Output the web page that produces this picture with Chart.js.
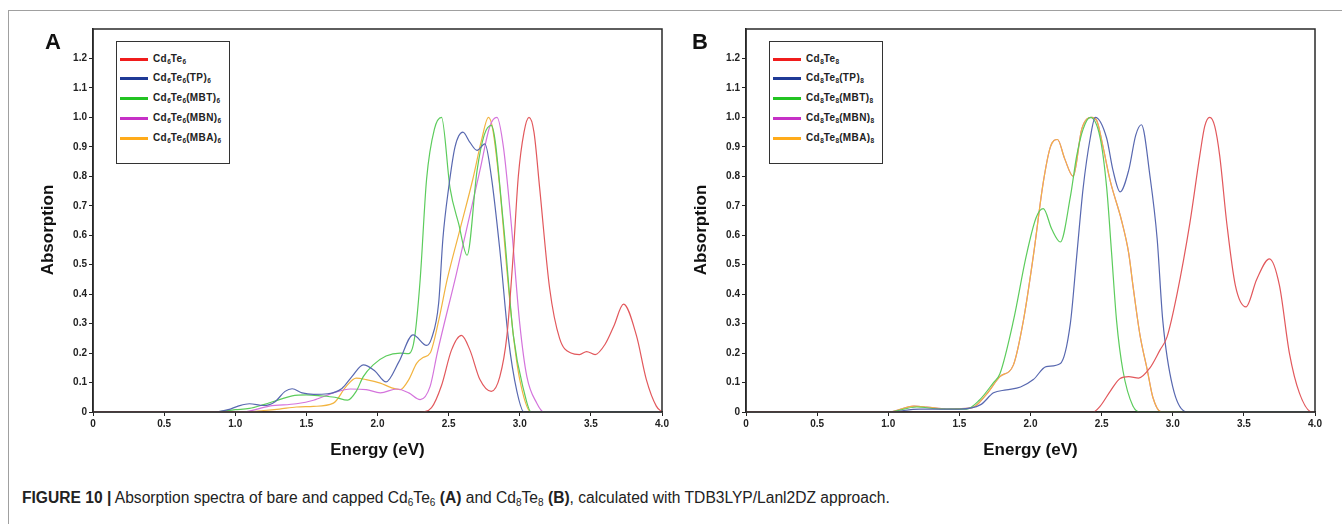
<!DOCTYPE html>
<html>
<head>
<meta charset="utf-8">
<script src="https://cdn.jsdelivr.net/npm/chart.js@4.4.1/dist/chart.umd.min.js"></script>
<style>
  body { margin: 0; width: 1342px; height: 524px; background: #fff; position: relative; overflow: hidden;
         font-family: Arial, "Liberation Sans", sans-serif; }
  .frame-top { position: absolute; left: 9px; top: 10px; width: 1333px; height: 0; border-top: 1.5px solid #a0a0a0; }
  .frame-left { position: absolute; left: 8px; top: 10px; width: 0; height: 514px; border-left: 1.5px solid #a0a0a0; }
  canvas { position: absolute; top: 0; }
  .letter { position: absolute; top: 29px; font-size: 22px; font-weight: bold; color: #111; }
  .ytitle { position: absolute; top: 230px; width: 120px; margin-left: -60px; margin-top: -10px; height: 20px; line-height: 20px;
            text-align: center; font-size: 17px; font-weight: bold; color: #111; transform: rotate(-90deg); }
  .legend { position: absolute; top: 41px; width: 112px; height: 121px; border: 1.5px solid #333; background: #fff; }
  .item { position: absolute; left: 0; height: 14px; line-height: 14px; font-size: 10px; font-weight: bold; color: #222;
          white-space: nowrap; letter-spacing: 0.4px; }
  .item span.sw { position: absolute; left: 3px; top: 6px; width: 28px; height: 3px; }
  .item span.tx { position: absolute; left: 36px; top: 0; }
  .item sub { font-size: 6.5px; vertical-align: -2px; letter-spacing: 0; }
  .caption { position: absolute; left: 22px; top: 489px; font-size: 15.6px; line-height: 18px; color: #222; white-space: nowrap; }
  .caption sub { font-size: 10px; vertical-align: -3px; }
</style>
</head>
<body>
<div class="frame-top"></div>
<div class="frame-left"></div>

<canvas id="chartA" width="680" height="470" style="left:0px"></canvas>
<canvas id="chartB" width="662" height="470" style="left:680px"></canvas>

<div class="letter" style="left:45px">A</div>
<div class="letter" style="left:692px">B</div>

<div class="ytitle" style="left:48px">Absorption</div>
<div class="ytitle" style="left:701px">Absorption</div>

<div class="legend" style="left:116px">
  <div class="item" style="top:10px"><span class="sw" style="background:#f01c1c"></span><span class="tx">Cd<sub>6</sub>Te<sub>6</sub></span></div>
  <div class="item" style="top:29px"><span class="sw" style="background:#1f3a96"></span><span class="tx">Cd<sub>6</sub>Te<sub>6</sub>(TP)<sub>6</sub></span></div>
  <div class="item" style="top:49px"><span class="sw" style="background:#22c322"></span><span class="tx">Cd<sub>6</sub>Te<sub>6</sub>(MBT)<sub>6</sub></span></div>
  <div class="item" style="top:69px"><span class="sw" style="background:#c630c6"></span><span class="tx">Cd<sub>6</sub>Te<sub>6</sub>(MBN)<sub>6</sub></span></div>
  <div class="item" style="top:89px"><span class="sw" style="background:#ffab1a"></span><span class="tx">Cd<sub>6</sub>Te<sub>6</sub>(MBA)<sub>6</sub></span></div>
</div>

<div class="legend" style="left:769px">
  <div class="item" style="top:10px"><span class="sw" style="background:#f01c1c"></span><span class="tx">Cd<sub>8</sub>Te<sub>8</sub></span></div>
  <div class="item" style="top:29px"><span class="sw" style="background:#1f3a96"></span><span class="tx">Cd<sub>8</sub>Te<sub>8</sub>(TP)<sub>8</sub></span></div>
  <div class="item" style="top:49px"><span class="sw" style="background:#22c322"></span><span class="tx">Cd<sub>8</sub>Te<sub>8</sub>(MBT)<sub>8</sub></span></div>
  <div class="item" style="top:69px"><span class="sw" style="background:#c630c6"></span><span class="tx">Cd<sub>8</sub>Te<sub>8</sub>(MBN)<sub>8</sub></span></div>
  <div class="item" style="top:89px"><span class="sw" style="background:#ffab1a"></span><span class="tx">Cd<sub>8</sub>Te<sub>8</sub>(MBA)<sub>8</sub></span></div>
</div>

<div class="caption"><b>FIGURE 10 |</b> Absorption spectra of bare and capped Cd<sub>6</sub>Te<sub>6</sub> <b>(A)</b> and Cd<sub>8</sub>Te<sub>8</sub> <b>(B)</b>, calculated with TDB3LYP/Lanl2DZ approach.</div>

<script>
// tick values shared by both panels
const xTicks = [0, 0.5, 1.0, 1.5, 2.0, 2.5, 3.0, 3.5, 4.0];
const yTicks = [0, 0.1, 0.2, 0.3, 0.4, 0.5, 0.6, 0.7, 0.8, 0.9, 1.0, 1.1, 1.2];

// panel A: Cd6Te6 family (energy in eV, absorption normalised)
const aBareE = [0, 2.3, 2.38, 2.45, 2.52, 2.59, 2.65, 2.72, 2.8, 2.86, 2.91, 2.955, 2.99, 3.03, 3.065, 3.1, 3.14, 3.21, 3.28, 3.36, 3.42, 3.47, 3.53, 3.6, 3.66, 3.73, 3.82, 3.89, 3.96, 4.0];
const aBareAbs = [0, 0, 0.015, 0.09, 0.21, 0.26, 0.21, 0.11, 0.07, 0.12, 0.26, 0.54, 0.8, 0.95, 1.0, 0.95, 0.76, 0.42, 0.25, 0.2, 0.195, 0.205, 0.195, 0.23, 0.29, 0.366, 0.26, 0.11, 0.02, 0];

const aTpE = [0, 0.85, 0.95, 1.02, 1.1, 1.2, 1.28, 1.35, 1.4, 1.47, 1.55, 1.65, 1.75, 1.82, 1.9, 1.98, 2.06, 2.15, 2.25, 2.345, 2.38, 2.43, 2.46, 2.5, 2.545, 2.6, 2.65, 2.7, 2.755, 2.8, 2.86, 2.92, 2.98, 3.03, 4.0];
const aTpAbs = [0, 0, 0.008, 0.02, 0.028, 0.022, 0.035, 0.07, 0.079, 0.065, 0.06, 0.062, 0.08, 0.12, 0.16, 0.14, 0.102, 0.17, 0.262, 0.226, 0.25, 0.37, 0.59, 0.76, 0.9, 0.95, 0.915, 0.888, 0.91, 0.8, 0.55, 0.25, 0.07, 0, 0];

const aMbtE = [0, 0.85, 1.0, 1.1, 1.2, 1.31, 1.4, 1.5, 1.6, 1.7, 1.79, 1.85, 1.9, 1.97, 2.06, 2.16, 2.22, 2.26, 2.3, 2.345, 2.4, 2.45, 2.51, 2.57, 2.63, 2.7, 2.75, 2.8, 2.885, 2.955, 3.03, 3.08, 4.0];
const aMbtAbs = [0, 0, 0.008, 0.012, 0.025, 0.042, 0.055, 0.058, 0.055, 0.05, 0.04, 0.07, 0.12, 0.16, 0.19, 0.2, 0.198, 0.25, 0.45, 0.79, 0.96, 1.0, 0.76, 0.64, 0.532, 0.82, 0.94, 0.973, 0.64, 0.26, 0.07, 0, 0];

const aMbnE = [0, 1.05, 1.24, 1.43, 1.55, 1.69, 1.81, 1.92, 2.02, 2.135, 2.22, 2.3, 2.37, 2.42, 2.555, 2.72, 2.79, 2.84, 2.885, 2.94, 3.0, 3.05, 3.12, 3.17, 4.0];
const aMbnAbs = [0, 0, 0.02, 0.028, 0.04, 0.065, 0.078, 0.076, 0.065, 0.078, 0.065, 0.042, 0.087, 0.2, 0.47, 0.82, 0.97, 1.0, 0.9, 0.64, 0.3, 0.12, 0.03, 0, 0];

const aMbaE = [0, 1.05, 1.2, 1.31, 1.43, 1.55, 1.69, 1.78, 1.85, 1.92, 2.02, 2.1, 2.16, 2.22, 2.275, 2.32, 2.37, 2.43, 2.49, 2.58, 2.67, 2.73, 2.78, 2.81, 2.86, 2.91, 2.955, 3.0, 3.08, 4.0];
const aMbaAbs = [0, 0, 0.005, 0.01, 0.017, 0.019, 0.03, 0.087, 0.115, 0.11, 0.098, 0.082, 0.076, 0.11, 0.165, 0.185, 0.2, 0.31, 0.45, 0.62, 0.79, 0.92, 1.0, 0.96, 0.76, 0.48, 0.26, 0.11, 0, 0];

// panel B: Cd8Te8 family
const bBareE = [0, 2.44, 2.49, 2.56, 2.63, 2.69, 2.76, 2.84, 2.91, 2.96, 3.03, 3.12, 3.19, 3.225, 3.26, 3.295, 3.33, 3.38, 3.44, 3.515, 3.59, 3.68, 3.75, 3.82, 3.89, 3.98, 4.0];
const bBareAbs = [0, 0, 0.02, 0.07, 0.114, 0.12, 0.115, 0.15, 0.21, 0.255, 0.4, 0.64, 0.87, 0.97, 1.0, 0.97, 0.87, 0.64, 0.43, 0.357, 0.45, 0.52, 0.43, 0.2, 0.065, 0, 0];

const bTpE = [0, 1.0, 1.22, 1.5, 1.65, 1.74, 1.83, 1.93, 2.02, 2.11, 2.21, 2.28, 2.325, 2.37, 2.42, 2.455, 2.535, 2.58, 2.63, 2.69, 2.74, 2.78, 2.84, 2.89, 2.93, 3.0, 3.1, 4.0];
const bTpAbs = [0, 0, 0.01, 0.01, 0.025, 0.065, 0.075, 0.085, 0.11, 0.154, 0.165, 0.3, 0.53, 0.76, 0.93, 1.0, 0.93, 0.82, 0.747, 0.82, 0.94, 0.975, 0.8, 0.59, 0.31, 0.085, 0, 0];

const bMbtE = [0, 1.0, 1.2, 1.37, 1.55, 1.64, 1.74, 1.785, 1.88, 1.97, 2.04, 2.09, 2.15, 2.21, 2.28, 2.325, 2.37, 2.42, 2.49, 2.535, 2.57, 2.605, 2.65, 2.72, 2.77, 4.0];
const bMbtAbs = [0, 0, 0.017, 0.01, 0.01, 0.04, 0.1, 0.13, 0.31, 0.53, 0.66, 0.69, 0.62, 0.577, 0.73, 0.87, 0.96, 1.0, 0.93, 0.764, 0.54, 0.31, 0.14, 0.02, 0, 0];

// MBN sits directly under the MBA curve in panel B
const bMbnE = [0, 1.0, 1.18, 1.27, 1.41, 1.59, 1.69, 1.785, 1.88, 1.95, 2.02, 2.09, 2.14, 2.19, 2.24, 2.3, 2.36, 2.43, 2.465, 2.51, 2.56, 2.64, 2.69, 2.72, 2.77, 2.82, 2.86, 2.92, 4.0];
const bMbnAbs = [0, 0, 0.02, 0.017, 0.01, 0.015, 0.06, 0.12, 0.16, 0.31, 0.53, 0.78, 0.9, 0.925, 0.86, 0.8, 0.96, 1.0, 0.99, 0.9, 0.785, 0.65, 0.54, 0.43, 0.26, 0.145, 0.05, 0, 0];

const bMbaE = [0, 1.0, 1.18, 1.27, 1.41, 1.59, 1.69, 1.785, 1.88, 1.95, 2.02, 2.09, 2.14, 2.19, 2.24, 2.3, 2.36, 2.43, 2.465, 2.51, 2.56, 2.64, 2.69, 2.72, 2.77, 2.82, 2.86, 2.92, 4.0];
const bMbaAbs = [0, 0, 0.02, 0.017, 0.01, 0.015, 0.06, 0.12, 0.16, 0.31, 0.53, 0.78, 0.9, 0.925, 0.86, 0.8, 0.96, 1.0, 0.99, 0.9, 0.785, 0.65, 0.54, 0.43, 0.26, 0.145, 0.05, 0, 0];

const curveColors = { bare: '#e2585c', tp: '#5868b0', mbt: '#5ccc5c', mbn: '#d474dc', mba: '#f2b440' };

Chart.defaults.font.family = 'Arial, "Liberation Sans", sans-serif';

// closes the plot box (top + right edges)
const framePlugin = {
  id: 'frame',
  afterDraw(chart) {
    const a = chart.chartArea;
    const ctx = chart.ctx;
    ctx.save();
    ctx.strokeStyle = '#2a2a2a';
    ctx.lineWidth = 1.5;
    ctx.strokeRect(a.left, a.top, a.right - a.left, a.bottom - a.top);
    ctx.restore();
  }
};

function toPoints(es, vals) {
  return es.map((e, i) => ({ x: e, y: vals[i] }));
}

function fmt(v) {
  return v === 0 ? '0' : v.toFixed(1);
}

// first series in the list is drawn on top
function drawPanel(id, series, padRight, yWidth) {
  new Chart(document.getElementById(id), {
    type: 'line',
    data: {
      datasets: series.map(s => ({
        label: s.label,
        data: toPoints(s.e, s.abs),
        borderColor: s.color,
        borderWidth: 1.2,
        pointRadius: 0,
        fill: false,
        cubicInterpolationMode: 'monotone'
      }))
    },
    options: {
      responsive: false,
      animation: false,
      layout: { padding: { top: 29, right: padRight, left: 0, bottom: 0 } },
      plugins: { legend: { display: false }, tooltip: { enabled: false } },
      scales: {
        x: {
          type: 'linear', min: 0, max: 4,
          afterBuildTicks: s => { s.ticks = xTicks.map(v => ({ value: v })); },
          afterFit: s => { s.height = 58; },
          ticks: { callback: v => fmt(v), font: { size: 10, weight: 'bold' }, color: '#222', padding: 2, maxRotation: 0 },
          grid: { drawOnChartArea: false, drawTicks: true, tickLength: 4, color: '#222' },
          border: { display: true, color: '#222', width: 1.5 },
          title: { display: true, text: 'Energy (eV)', color: '#111', font: { size: 17, weight: 'bold' }, padding: { top: 0, bottom: 9 } }
        },
        y: {
          type: 'linear', min: 0, max: 1.3,
          afterBuildTicks: s => { s.ticks = yTicks.map(v => ({ value: v })); },
          afterFit: s => { s.width = yWidth; },
          ticks: { callback: v => fmt(v), font: { size: 10, weight: 'bold' }, color: '#222', padding: 2 },
          grid: { drawOnChartArea: false, drawTicks: true, tickLength: 4, color: '#222' },
          border: { display: true, color: '#222', width: 1.5 }
        }
      }
    },
    plugins: [framePlugin]
  });
}

drawPanel('chartA', [
  { label: 'Cd6Te6', e: aBareE, abs: aBareAbs, color: curveColors.bare },
  { label: 'Cd6Te6(TP)6', e: aTpE, abs: aTpAbs, color: curveColors.tp },
  { label: 'Cd6Te6(MBT)6', e: aMbtE, abs: aMbtAbs, color: curveColors.mbt },
  { label: 'Cd6Te6(MBN)6', e: aMbnE, abs: aMbnAbs, color: curveColors.mbn },
  { label: 'Cd6Te6(MBA)6', e: aMbaE, abs: aMbaAbs, color: curveColors.mba }
], 18, 93);

drawPanel('chartB', [
  { label: 'Cd8Te8', e: bBareE, abs: bBareAbs, color: curveColors.bare },
  { label: 'Cd8Te8(TP)8', e: bTpE, abs: bTpAbs, color: curveColors.tp },
  { label: 'Cd8Te8(MBT)8', e: bMbtE, abs: bMbtAbs, color: curveColors.mbt },
  { label: 'Cd8Te8(MBA)8', e: bMbaE, abs: bMbaAbs, color: curveColors.mba },
  { label: 'Cd8Te8(MBN)8', e: bMbnE, abs: bMbnAbs, color: curveColors.mbn }
], 27, 66);
</script>
</body>
</html>
